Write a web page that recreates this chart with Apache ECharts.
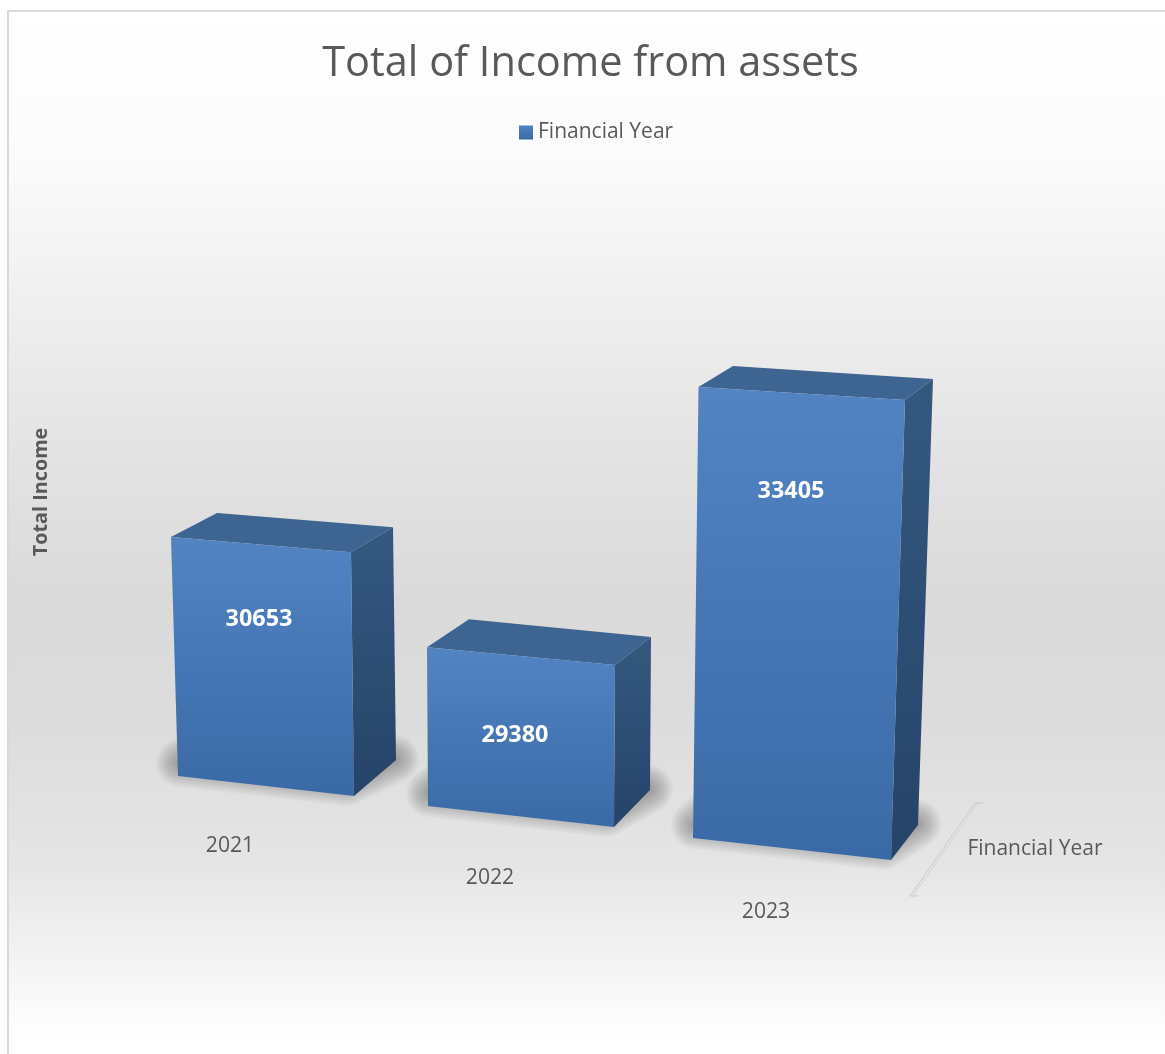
<!DOCTYPE html>
<html>
<head>
<meta charset="utf-8">
<style>html,body{margin:0;padding:0;background:#fff}#c{width:1165px;height:1054px}</style>
<script src="https://cdn.jsdelivr.net/npm/echarts@6/dist/echarts.min.js"></script>
</head>
<body>
<div id="c"></div>
<script>
const categories = ['2021', '2022', '2023'];
const totalIncome = [30653, 29380, 33405];
const seriesName = 'Financial Year';
const chartTitle = 'Total of Income from assets';
const valueAxisName = 'Total Income';

// Perspective of each column in pixels: how the 3D projection bends the bar that the scale yields.
const perspective = [
  {left:-84.5, drop:0,  width:176, slant:20, scale:1.000, leanL:-7,  leanR:-3, backL:[46,-24],   backR:[42,-25], backB:[42,-36], label:[-3.5,-158], cat:[-32.5,68]},
  {left:-99.5, drop:30, width:186, slant:21, scale:1.020, leanL:-1,  leanR:1,  backL:[42,-28],   backR:[36,-28], backB:[36,-37], label:[-12.5,-42], cat:[-37.5,100]},
  {left:-99.5, drop:62, width:198, slant:22, scale:1.076, leanL:5.5, leanR:14, backL:[34.5,-21], backR:[28,-21], backB:[27,-35], label:[-1.5,-286], cat:[-26.5,134]}
];
const shadowWidths = [48,45,42,39,36,33,30,27,24,21,18,15,12,9,6,3];

const chart = echarts.init(document.getElementById('c'), null, {renderer:'canvas'});
const LG = echarts.graphic.LinearGradient;
const frontFill = new LG(0,0,0,1,[{offset:0,color:'#5283c3'},{offset:1,color:'#3a6aa6'}]);
const sideFill  = new LG(0,0,0,1,[{offset:0,color:'#34597f'},{offset:1,color:'#264369'}]);
const topFill = '#3e6491';
const FONT = '"Open Sans","Noto Sans",sans-serif';

function renderColumn(params, api){
  const i = api.value(0), p = perspective[i];
  const base = api.coord([i, 27000]);
  const top = api.coord([i, api.value(1)]);
  const h = (base[1]-top[1])*p.scale;
  const BL = [base[0]+p.left, base[1]+p.drop];
  const BR = [BL[0]+p.width, BL[1]+p.slant];
  const TL = [BL[0]+p.leanL, BL[1]-h];
  const TR = [BR[0]+p.leanR, BR[1]-h*1.02];
  const add = (a,d)=>[a[0]+d[0],a[1]+d[1]];
  const BTL = add(TL,p.backL), BTR = add(TR,p.backR), BBR = add(BR,p.backB);
  const BBL = [BL[0]+p.backB[0], BL[1]+p.backB[1]];
  const poly = (pts,style,z)=>({type:'polygon',shape:{points:pts},style:style,z2:z||0,silent:true});
  const floor = [[BL[0]+2,BL[1]-13],[BR[0]-8,BR[1]-14],[BBR[0]-1,BBR[1]-1],[BBL[0],BBL[1]]];
  const shadows = shadowWidths.map(w=>poly(floor,{fill:'rgba(50,50,50,0.03)',stroke:'rgba(50,50,50,0.03)',lineWidth:w,lineJoin:'round'},0));
  return {type:'group',children:shadows.concat([
    poly([BR,TR,BTR,BBR],{fill:sideFill},1),
    poly([TL,TR,BTR,BTL],{fill:topFill},1),
    poly([BL,BR,TR,TL],{fill:frontFill},2),
    {type:'text',z2:5,silent:true,style:{x:base[0]+p.label[0],y:base[1]+p.label[1]+1,text:String(api.value(1)),
      fill:'#fff',font:'bold 23.4px '+FONT,align:'center',verticalAlign:'middle'}},
    {type:'text',z2:5,silent:true,style:{x:base[0]+p.cat[0],y:base[1]+p.cat[1]+2,text:categories[i],
      fill:'#595959',font:'21.2px '+FONT,align:'center',verticalAlign:'middle'}}
  ])};
}

chart.setOption({
  animation:false,
  backgroundColor:'#fff',
  title:{text:chartTitle,left:585.5,top:32,textAlign:'center',
    textStyle:{fontFamily:FONT,fontSize:41.5,fontWeight:'normal',color:'#595959',lineHeight:54}},
  legend:{data:[seriesName],left:514,top:117,itemWidth:14,itemHeight:14,itemGap:5,icon:'rect',
    textStyle:{fontFamily:FONT,fontSize:21,color:'#595959',padding:[0,0,0,0]}},
  grid:{left:130,width:795,top:318,height:458},
  xAxis:{type:'category',data:categories,show:false},
  yAxis:{type:'value',min:27000,max:34000,show:false},
  series:[{name:seriesName,type:'custom',renderItem:renderColumn,clip:false,
    itemStyle:{color:new LG(0,0,0,1,[{offset:0,color:'#5283c3'},{offset:1,color:'#3a6aa6'}])},
    encode:{x:0,y:1},
    data:categories.map((c,i)=>[i,totalIncome[i]])}],
  graphic:[
    {type:'rect',z:-10,silent:true,shape:{x:8,y:11,width:1165,height:1050},
      style:{stroke:'#d9d9d9',lineWidth:2,
        fill:new LG(0,0,0,1,[{offset:0,color:'#ffffff'},{offset:0.142,color:'#fbfbfb'},{offset:0.328,color:'#ebebeb'},{offset:0.466,color:'#e0e0e0'},{offset:0.56,color:'#dadada'},{offset:0.675,color:'#dcdcdc'},{offset:0.81,color:'#e5e5e5'},{offset:0.87,color:'#eeeeee'},{offset:0.94,color:'#f9f9f9'},{offset:0.98,color:'#ffffff'},{offset:1,color:'#ffffff'}])}},
    {type:'polyline',silent:true,z:1,shape:{points:[[983,803],[975,803],[910,896],[918,896]]},
      style:{fill:'none',stroke:'#c9c9c9',lineWidth:1}},
    {type:'polyline',silent:true,z:1,shape:{points:[[978,803],[913,896]]},
      style:{fill:'none',stroke:'#d2d2d2',lineWidth:1}},
    {type:'text',silent:true,z:5,style:{x:1035,y:849,text:seriesName,fill:'#595959',font:'21px '+FONT,align:'center',verticalAlign:'middle'}},
    {type:'text',silent:true,z:5,x:41,y:492,rotation:Math.PI/2,style:{x:0,y:0,text:valueAxisName,fill:'#595959',font:'bold 19.8px '+FONT,align:'center',verticalAlign:'middle'}}
  ]
});
</script>
</body>
</html>
